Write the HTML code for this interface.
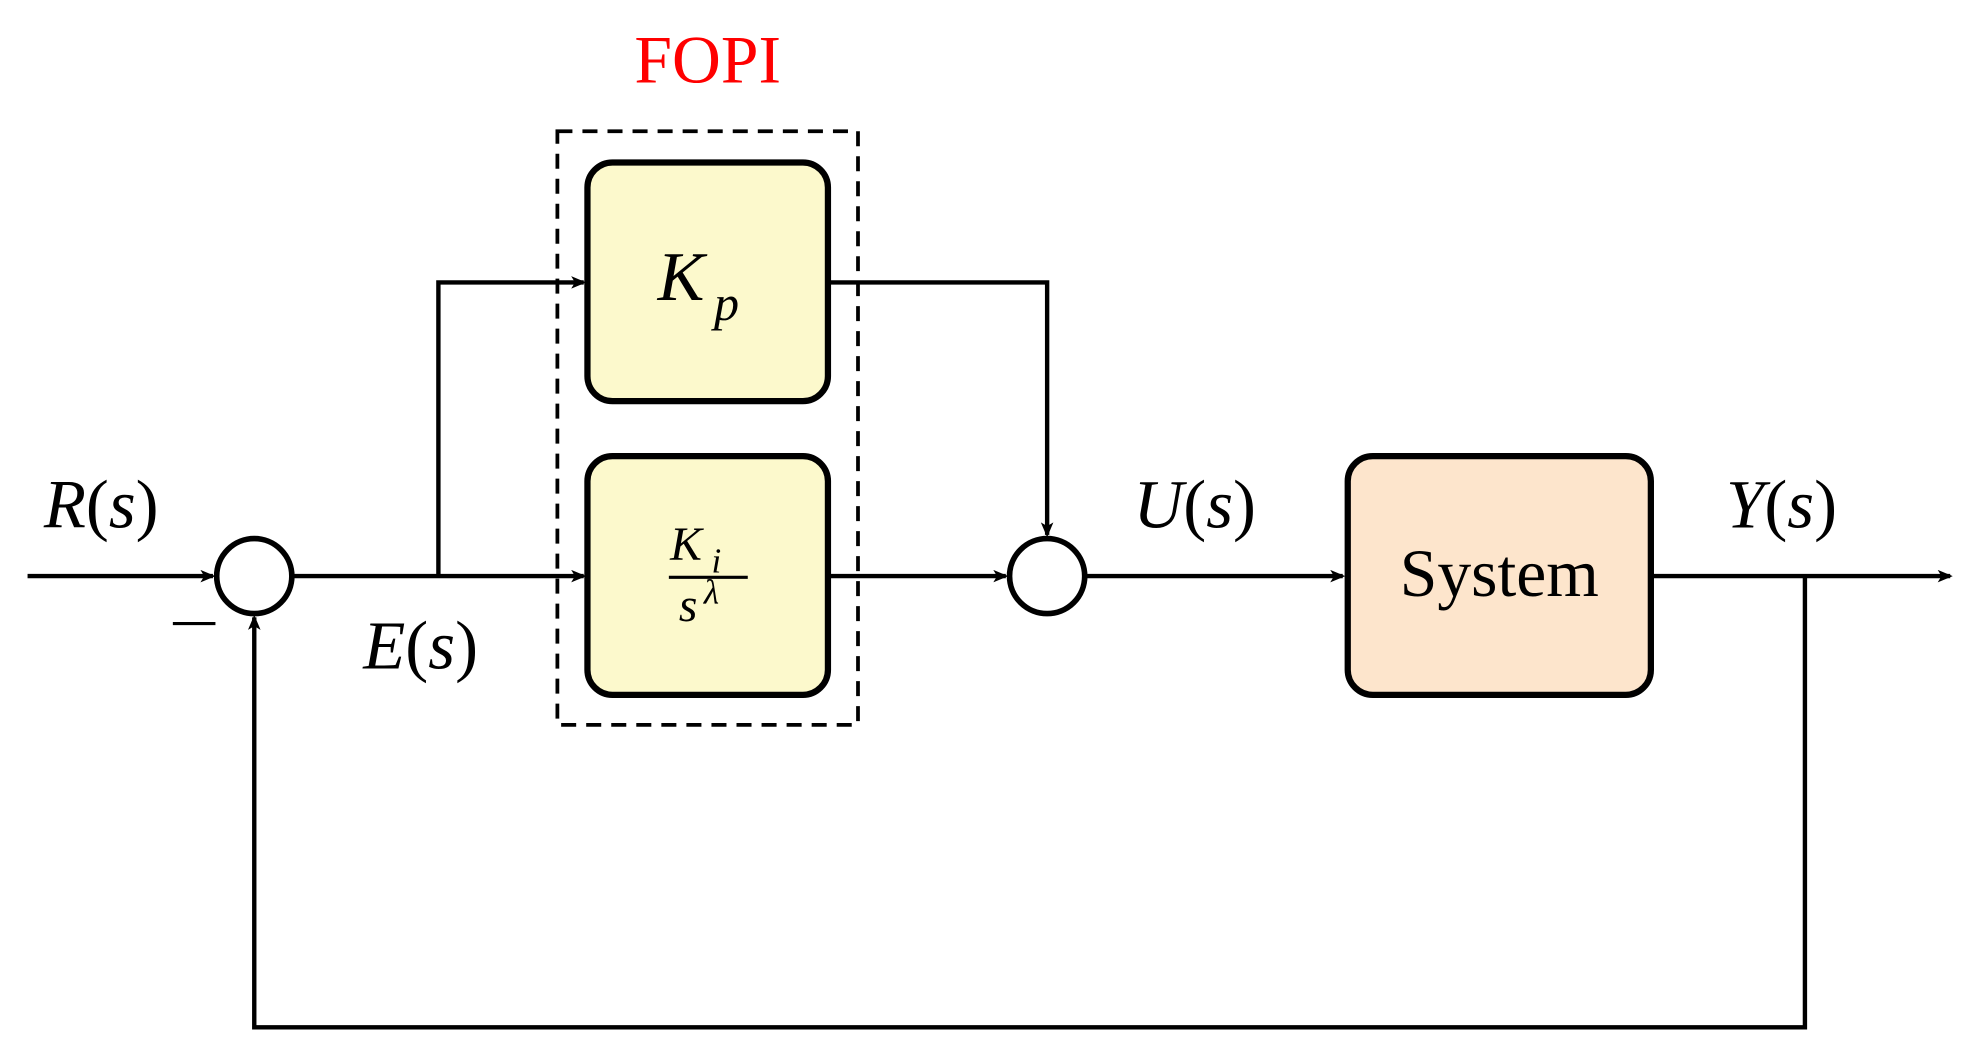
<!DOCTYPE html>
<html><head><meta charset="utf-8"><style>
html,body{margin:0;padding:0;background:#fff;}
svg{display:block;}
.m{font-family:"Liberation Serif",serif;font-style:italic;}
.r{font-family:"Liberation Serif",serif;}
</style></head><body>
<svg width="1964" height="1056" viewBox="0 0 1568 845" preserveAspectRatio="none" xmlns="http://www.w3.org/2000/svg">
<defs>
<marker id="a" markerWidth="12" markerHeight="10" refX="10" refY="5" orient="auto" markerUnits="userSpaceOnUse">
<path d="M0,0 L12,5 L0,10 L3,5 Z" fill="#000"/>
</marker>
</defs>
<text x="565" y="66" text-anchor="middle" class="r" font-size="54" fill="#ff0000">FOPI</text>
<rect x="445" y="105" width="240" height="475" fill="none" stroke="#000" stroke-width="3" stroke-dasharray="12,8"/>
<g stroke="#000" stroke-width="3.5" fill="none">
<line x1="22" y1="461" x2="170" y2="461" marker-end="url(#a)"/>
<line x1="233" y1="461" x2="466" y2="461" marker-end="url(#a)"/>
<polyline points="350,461 350,226 466,226" marker-end="url(#a)"/>
<polyline points="661,226 836,226 836,428" marker-end="url(#a)"/>
<line x1="661" y1="461" x2="803" y2="461" marker-end="url(#a)"/>
<line x1="866" y1="461" x2="1072" y2="461" marker-end="url(#a)"/>
<line x1="1318" y1="461" x2="1557" y2="461" marker-end="url(#a)"/>
<polyline points="1441,461 1441,822 203,822 203,494" marker-end="url(#a)"/>
</g>
<rect x="469" y="130" width="192" height="191" rx="20" fill="#fcf9cc" stroke="#000" stroke-width="5"/>
<rect x="469" y="365" width="192" height="191" rx="20" fill="#fcf9cc" stroke="#000" stroke-width="5"/>
<rect x="1076" y="365" width="242" height="191" rx="20" fill="#fde5cc" stroke="#000" stroke-width="5"/>
<circle cx="203" cy="461" r="30" fill="#fff" stroke="#000" stroke-width="4.5"/>
<circle cx="836" cy="461" r="30" fill="#fff" stroke="#000" stroke-width="4.5"/>
<text x="525" y="240" class="m" font-size="56">K</text><text x="570" y="256" class="m" font-size="40">p</text>
<text x="535" y="448" class="m" font-size="38">K</text><text x="568" y="458" class="m" font-size="28">i</text>
<line x1="534" y1="462" x2="597" y2="462" stroke="#000" stroke-width="2.5"/>
<text x="542" y="497" class="m" font-size="38">s</text><text x="562" y="483" class="m" font-size="28">λ</text>
<text x="1197" y="477" text-anchor="middle" class="r" font-size="54">System</text>
<text x="35" y="422" class="m" font-size="55">R<tspan font-style="normal">(</tspan>s<tspan font-style="normal">)</tspan></text>
<text x="290" y="535" class="m" font-size="55">E<tspan font-style="normal">(</tspan>s<tspan font-style="normal">)</tspan></text>
<text x="905" y="422" class="m" font-size="55">U<tspan font-style="normal">(</tspan>s<tspan font-style="normal">)</tspan></text>
<text x="1378" y="422" class="m" font-size="55">Y<tspan font-style="normal">(</tspan>s<tspan font-style="normal">)</tspan></text>
<line x1="138" y1="499" x2="172" y2="499" stroke="#000" stroke-width="2.5"/>
</svg>
</body></html>
